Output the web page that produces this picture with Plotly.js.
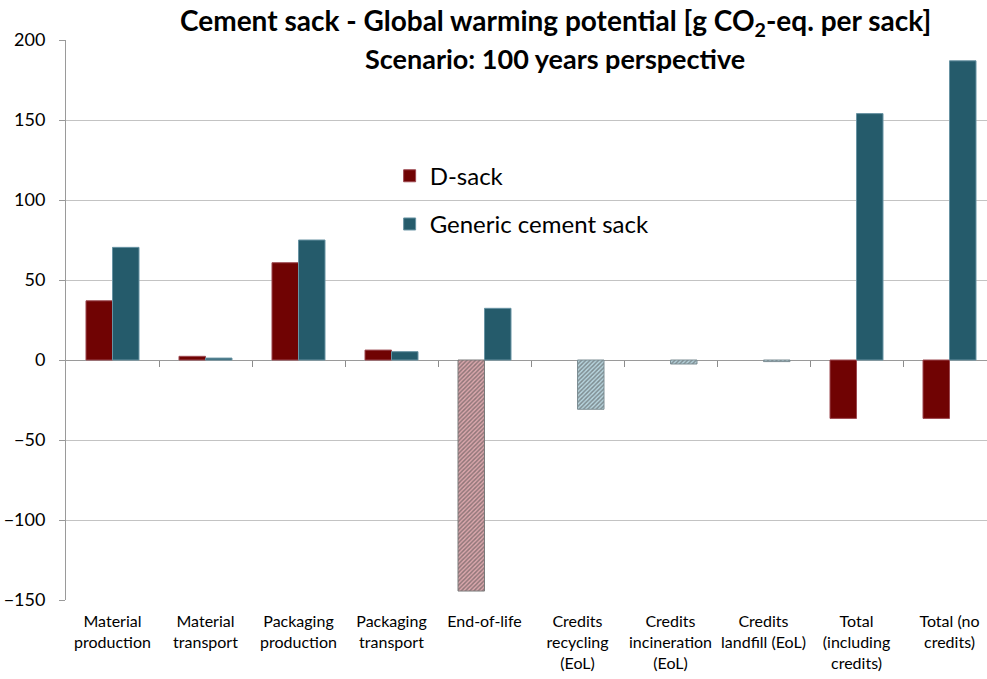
<!DOCTYPE html>
<html>
<head>
<meta charset="utf-8">
<script src="https://cdn.plot.ly/plotly-3.0.1.min.js"></script>
<style>html,body{margin:0;padding:0;overflow:hidden;background:#fff}</style>
</head>
<body>
<div id="chart"></div>
<script>
const categories = ["Material<br>production","Material<br>transport","Packaging<br>production","Packaging<br>transport","End-of-life","Credits<br>recycling<br>(EoL)","Credits<br>incineration<br>(EoL)","Credits<br>landfill (EoL)","Total<br>(including<br>credits)","Total (no<br>credits)"];
const dsack   = [37, 2.3, 60.8, 6.2, -144.4, null, null, null, -36.5, -36.5];
const generic = [70.4, 1.2, 75, 5.2, 32.3, -30.8, -2.5, -1.0, 154, 187];
const dsackHatched   = [false,false,false,false,true,false,false,false,false,false];
const genericHatched = [false,false,false,false,false,true,true,true,false,false];
const yTicks = [-150,-100,-50,0,50,100,150,200];
const titleLine1 = '<b>Cement sack - Global warming potential [g CO<sub>2</sub>-eq. per sack]</b>';
const titleLine2 = '<b>Scenario: 100 years perspective</b>';

const idx = categories.map((c,i)=>i);
const FONT = "Lato, 'Liberation Sans', sans-serif";

function barTrace(name, vals, hatched, solid, light, lineCol, hatchLine, hatchBorder){
  return {
    type:'bar', name:name, x:idx, y:vals, legendgroup:name,
    marker:{
      color: hatched.map(h=> h? light : solid),
      line:{color: hatched.map(h=> h? hatchBorder : lineCol), width:1},
      pattern:{
        shape: hatched.map(h=> h? '/' : ''),
        fgcolor: hatched.map(h=> h? hatchLine : solid),
        size: 3, solidity: 0.5, fillmode:'overlay'
      }
    },
    hoverinfo:'y'
  };
}

const traces = [
  barTrace('D-sack', dsack, dsackHatched, '#700303', '#dba8ad', '#9c4850', '#4a0202', '#7a7a7a'),
  barTrace('Generic cement sack', generic, genericHatched, '#255b6b', '#b8d5de', '#6893a3', '#1a4150', '#7d8e94'),
  // invisible helper trace so the zero-line category axis (ticks between categories) is drawn
  {type:'scatter', x:idx, y:idx.map(()=>null), xaxis:'x2', yaxis:'y', mode:'markers',
   showlegend:false, hoverinfo:'skip', marker:{opacity:0}}
];

const layout = {
  width: 996, height: 679,
  margin:{l:66, r:0, t:40, b:79},
  paper_bgcolor:'#ffffff', plot_bgcolor:'#ffffff',
  font:{family:FONT, color:'#000', size:15},
  annotations:[
    {text:titleLine1, xref:'paper', yref:'paper', x:(555-66)/930, y:1+18/560, xanchor:'center', yanchor:'middle',
     showarrow:false, font:{family:FONT, size:28, color:'#000'}},
    {text:titleLine2, xref:'paper', yref:'paper', x:(555-66)/930, y:1-19/560, xanchor:'center', yanchor:'middle',
     showarrow:false, font:{family:FONT, size:27, color:'#000'}}
  ],
  barmode:'group', bargap:0.43, bargroupgap:0,
  showlegend:true,
  legend:{x:0.348, y:0.797, xanchor:'left', yanchor:'top', bgcolor:'rgba(0,0,0,0)',
          font:{family:FONT, size:24, color:'#000'}, tracegroupgap:14, traceorder:'grouped'},
  xaxis:{
    range:[-0.5, categories.length-0.5], anchor:'y',
    tickmode:'array', tickvals: idx, ticktext: categories,
    showgrid:false, zeroline:false, showline:false, ticks:'', ticklabelstandoff:10,
    tickfont:{family:FONT, size:16, color:'#000'}
  },
  xaxis2:{
    overlaying:'x', anchor:'free', position:150/350,
    range:[-0.5, categories.length-0.5],
    showticklabels:false, showgrid:false, zeroline:false, showline:false,
    tickmode:'array', tickvals: idx.slice(1).map(i=>i-0.5),
    ticks:'outside', ticklen:6, tickcolor:'#8c8c8c'
  },
  yaxis:{
    range:[-150, 200], tickmode:'array', tickvals:yTicks,
    showgrid:true, gridcolor:'#c3c3c3', gridwidth:1,
    zeroline:true, zerolinecolor:'#9a9a9a', zerolinewidth:1,
    showline:true, linecolor:'#9a9a9a', linewidth:1,
    ticks:'outside', ticklen:6, tickcolor:'#9a9a9a', ticklabelstandoff:10,
    tickfont:{family:FONT, size:18, color:'#000'}
  }
};

Plotly.newPlot('chart', traces, layout, {displayModeBar:false, staticPlot:true});
</script>
</body>
</html>
